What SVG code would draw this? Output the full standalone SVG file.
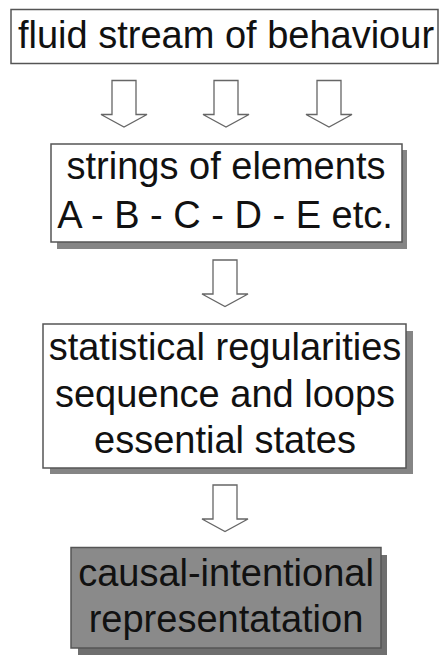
<svg xmlns="http://www.w3.org/2000/svg" xmlns:xlink="http://www.w3.org/1999/xlink" width="440" height="656" viewBox="0 0 440 656">
  <style>
    .box { fill: #ffffff; stroke: #555555; stroke-width: 1.5; }
    .dark { fill: #8a8a8a; stroke: #555555; stroke-width: 1.5; }
    .shadow { fill: #858585; }
    .shadow-dark { fill: #6f6f6f; }
    .label { font-family: "Liberation Sans", Arial, Helvetica, sans-serif; font-size: 38px; fill: #111111; text-anchor: middle; }
    .arrow { fill: #ffffff; stroke: #666666; stroke-width: 1.3; stroke-linejoin: miter; }
  </style>
  <defs>
    <!-- hollow block arrow, origin at top centre of the shaft -->
    <path id="block-arrow" class="arrow" d="M-12,0 H12 V34 H23 L0,46.5 L-23,34 H-12 Z"/>
  </defs>

  <rect width="440" height="656" fill="#ffffff"/>

  <g id="fluid-stream">
    <rect class="box" x="11" y="9.5" width="427" height="54"/>
    <text class="label" x="226" y="48">fluid stream of behaviour</text>
  </g>

  <g id="strings">
    <rect class="shadow" x="57" y="150" width="350" height="99"/>
    <rect class="box" x="51" y="144" width="351" height="98"/>
    <text class="label" x="226" y="179">strings of elements</text>
    <text class="label" x="225" y="228">A - B - C - D - E etc.</text>
  </g>

  <g id="regularities">
    <rect class="shadow" x="50" y="331" width="363" height="143"/>
    <rect class="box" x="43" y="324" width="363" height="144"/>
    <text class="label" x="225" y="360">statistical regularities</text>
    <text class="label" x="225" y="407">sequence and loops</text>
    <text class="label" x="225" y="453">essential states</text>
  </g>

  <g id="representation">
    <rect class="shadow-dark" x="78" y="555" width="309" height="100"/>
    <rect class="dark" x="71" y="547.5" width="310" height="100.5"/>
    <text class="label" x="226" y="586">causal-intentional</text>
    <text class="label" x="226" y="632">representatation</text>
  </g>

  <g id="connectors">
    <use xlink:href="#block-arrow" transform="translate(124,80.5)"/>
    <use xlink:href="#block-arrow" transform="translate(226,80.5)"/>
    <use xlink:href="#block-arrow" transform="translate(329,80.5)"/>
    <use xlink:href="#block-arrow" transform="translate(225,260)"/>
    <use xlink:href="#block-arrow" transform="translate(225,485)"/>
  </g>
</svg>
